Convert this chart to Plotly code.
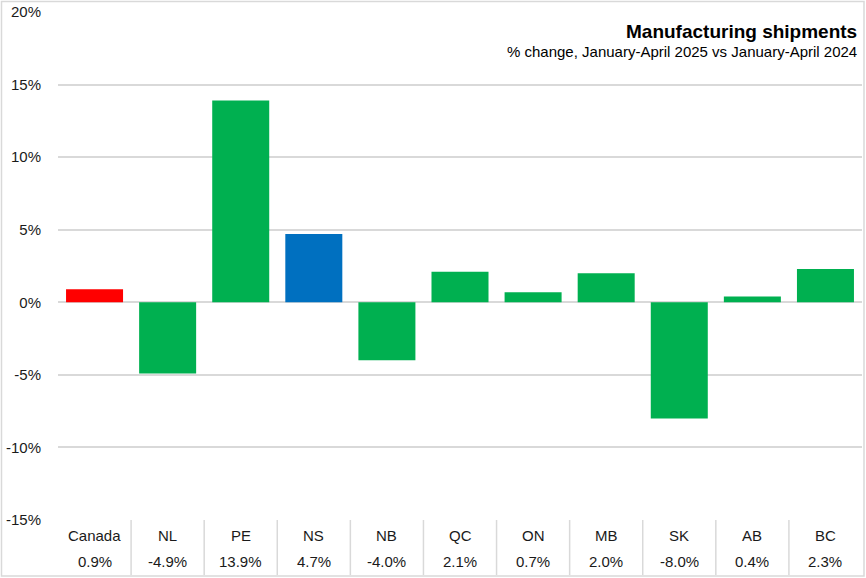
import plotly.graph_objects as go

categories = ["Canada", "NL", "PE", "NS", "NB", "QC", "ON", "MB", "SK", "AB", "BC"]
values = [0.9, -4.9, 13.9, 4.7, -4.0, 2.1, 0.7, 2.0, -8.0, 0.4, 2.3]
value_labels = ["0.9%", "-4.9%", "13.9%", "4.7%", "-4.0%", "2.1%", "0.7%", "2.0%", "-8.0%", "0.4%", "2.3%"]
colors = ["#FF0000", "#00B050", "#00B050", "#0070C0", "#00B050", "#00B050",
          "#00B050", "#00B050", "#00B050", "#00B050", "#00B050"]
y_ticks = [-15, -10, -5, 0, 5, 10, 15, 20]
y_tick_labels = ["-15%", "-10%", "-5%", "0%", "5%", "10%", "15%", "20%"]

W, H = 866, 578
ml, mr, mt, mb = 58, 4, 12, 58
pw, ph = W - ml - mr, H - mt - mb

def px_x(p):
    return (p - ml) / pw

def px_y(p):
    return (H - mb - p) / ph

xs = list(range(len(categories)))
fig = go.Figure(go.Bar(x=xs, y=values, marker_color=colors, width=0.78,
                       marker_line_width=0, hoverinfo="skip"))

font_main = "Liberation Sans, Arial, sans-serif"
shapes = []
# outer border
shapes.append(dict(type="rect", xref="paper", yref="paper",
                   x0=px_x(1.5), x1=px_x(864), y0=px_y(576), y1=px_y(1.5),
                   line=dict(color="#D9D9D9", width=1.5), fillcolor="rgba(0,0,0,0)", layer="below"))
# table separators
for i in range(len(categories) - 1):
    shapes.append(dict(type="line", xref="x", yref="paper", x0=i + 0.5, x1=i + 0.5,
                       y0=0, y1=px_y(575), line=dict(color="#D9D9D9", width=1.5)))

annotations = []
for i, (c, v) in enumerate(zip(categories, value_labels)):
    annotations.append(dict(x=i, y=px_y(535), xref="x", yref="paper", text=c, showarrow=False,
                            font=dict(size=15, color="#1a1a1a", family=font_main),
                            xanchor="center", yanchor="middle"))
    annotations.append(dict(x=i, y=px_y(561), xref="x", yref="paper", text=v, showarrow=False,
                            font=dict(size=15, color="#1a1a1a", family=font_main),
                            xanchor="center", yanchor="middle"))
annotations.append(dict(x=px_x(859), y=px_y(31), xref="paper", yref="paper",
                        text="<b>Manufacturing shipments</b>", showarrow=False,
                        font=dict(size=19, color="#000000", family=font_main),
                        xanchor="right", yanchor="middle"))
annotations.append(dict(x=px_x(859), y=px_y(52), xref="paper", yref="paper",
                        text="% change, January-April 2025 vs January-April 2024", showarrow=False,
                        font=dict(size=15, color="#000000", family=font_main),
                        xanchor="right", yanchor="middle"))

fig.update_layout(
    width=W, height=H,
    margin=dict(l=ml, r=mr, t=mt, b=mb),
    paper_bgcolor="white", plot_bgcolor="white",
    showlegend=False,
    bargap=0.22,
    shapes=shapes,
    annotations=annotations,
    xaxis=dict(range=[-0.5, len(categories) - 0.5], showticklabels=False, showgrid=False,
               zeroline=False, showline=False, ticks="", fixedrange=True),
    yaxis=dict(range=[-15, 20], tickvals=y_ticks, ticktext=y_tick_labels,
               showgrid=True, gridcolor="#D9D9D9", gridwidth=1.5, zeroline=False,
               showline=False, ticks="", ticklabelstandoff=16,
               tickfont=dict(size=15, color="#1a1a1a", family=font_main)),
)

fig.write_html("out.html", config={"displayModeBar": False},
               post_script="document.body.style.margin='0';document.body.style.overflow='hidden';")
